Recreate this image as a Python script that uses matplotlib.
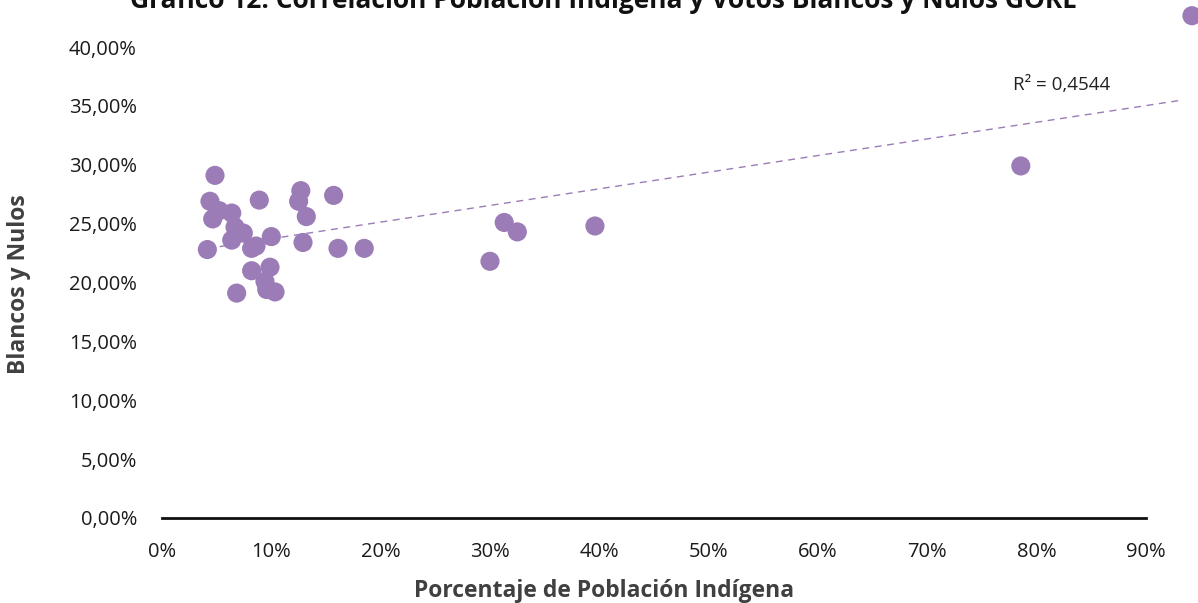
import numpy as np
import matplotlib
matplotlib.use("Agg")
import matplotlib.pyplot as plt
from matplotlib.ticker import FuncFormatter, MultipleLocator

plt.rcParams["font.family"] = ["Open Sans", "DejaVu Sans"]

# % población indígena (x) vs % votos blancos y nulos (y)
pob_indigena = [4.85, 4.39, 4.64, 5.24, 6.38, 6.68, 7.44, 6.38, 8.9, 4.15,
                8.2, 8.6, 10.0, 6.83, 8.2, 9.88, 9.42, 9.58, 10.34,
                12.7, 12.5, 13.2, 12.9, 15.7, 16.1, 18.5,
                30.0, 31.3, 32.5, 39.6, 78.55, 94.2]
blancos_nulos = [29.1, 26.9, 25.4, 26.1, 25.9, 24.7, 24.2, 23.6, 27.0, 22.8,
                 22.9, 23.1, 23.9, 19.1, 21.0, 21.3, 20.1, 19.4, 19.2,
                 27.8, 26.9, 25.6, 23.4, 27.4, 22.9, 22.9,
                 21.8, 25.1, 24.3, 24.8, 29.9, 42.66]
r2_label = "R² = 0,4544"
title = "Gráfico 12. Correlación Población Indígena y Votos Blancos y Nulos GORE"
TREND_END = 0.932  # trendline stops at the plot-area edge, as in the source

PURPLE = "#9b7cb6"

x = np.array(pob_indigena) / 100
y = np.array(blancos_nulos) / 100

fig = plt.figure(figsize=(11.98, 6.03), dpi=100)
ax = fig.add_axes([0.1352, 0.141, 0.8214, 0.781])

ax.scatter(x, y, s=190, color=PURPLE, edgecolors="none", zorder=3, clip_on=False)

# linear trendline
m, b = np.polyfit(x, y, 1)
xs = np.array([x.min(), TREND_END])
ax.plot(xs, m * xs + b, color=PURPLE, lw=1, ls=(0, (5, 4)), zorder=2, clip_on=False)
ax.text(0.867, 0.368, r2_label, fontsize=13.5, ha="right", va="center", color="#222222")

ax.set_xlim(0, 0.9)
ax.set_ylim(0, 0.4)
ax.xaxis.set_major_locator(MultipleLocator(0.1))
ax.yaxis.set_major_locator(MultipleLocator(0.05))
ax.xaxis.set_major_formatter(FuncFormatter(lambda v, p: f"{v*100:.0f}%"))
ax.yaxis.set_major_formatter(FuncFormatter(lambda v, p: f"{v*100:.2f}%".replace(".", ",")))
ax.tick_params(length=0, labelsize=14.5, colors="#1a1a1a")
ax.tick_params(axis="x", pad=17)
ax.tick_params(axis="y", pad=18)

for s in ["top", "right", "left"]:
    ax.spines[s].set_visible(False)
ax.spines["bottom"].set_linewidth(2)
ax.spines["bottom"].set_color("#111111")

fig.text(0.504, 0.02, "Porcentaje de Población Indígena", ha="center", va="center",
         fontsize=16.5, fontweight="bold", color="#404040")
fig.text(0.016, 0.529, "Blancos y Nulos", ha="center", va="center", rotation=90,
         fontsize=16.5, fontweight="bold", color="#404040")

fig.text(0.504, 1 - 8 / 603, title, ha="center", va="baseline",
         fontsize=19, fontweight="bold", color="#111111")

fig.savefig("out.png", dpi=100)
